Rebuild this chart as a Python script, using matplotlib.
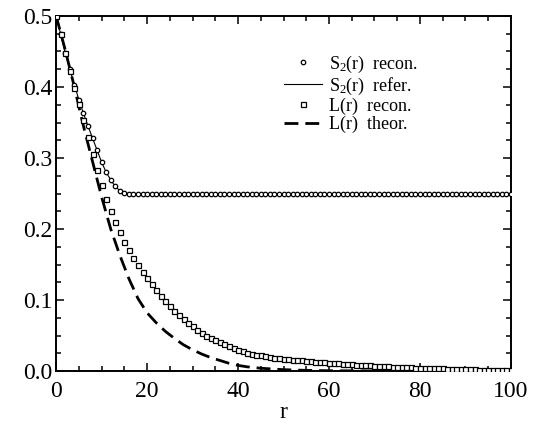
import numpy as np
import matplotlib.pyplot as plt
from matplotlib.ticker import MultipleLocator, FormatStrFormatter

plt.rcParams['font.family'] = ['Liberation Serif', 'DejaVu Serif']
plt.rcParams['mathtext.fontset'] = 'custom'
plt.rcParams['mathtext.rm'] = 'Liberation Serif'
plt.rcParams['mathtext.it'] = 'Liberation Serif:italic'

# r grid of the reconstructed data (one sample per pixel unit)
r = np.arange(0, 101)

# S2(r), flat at 0.25 after r = 16
s2_head = [0.500, 0.474, 0.448, 0.425, 0.403, 0.382, 0.363, 0.345, 0.328,
           0.311, 0.294, 0.280, 0.269, 0.260, 0.254, 0.251, 0.250]
s2_recon = s2_head + [0.250] * (101 - len(s2_head))
s2_refer = s2_recon

# L(r) reconstructed
l_recon = [0.500, 0.474, 0.448, 0.423, 0.399, 0.376, 0.353, 0.330, 0.306, 0.283,
           0.262, 0.243, 0.226, 0.210, 0.196, 0.182, 0.170, 0.159, 0.149, 0.140,
           0.131, 0.122, 0.114, 0.106, 0.099, 0.092, 0.085, 0.079, 0.073, 0.068,
           0.063, 0.058, 0.054, 0.050, 0.047, 0.044, 0.041, 0.038, 0.035, 0.032,
           0.030, 0.028, 0.026, 0.024, 0.023, 0.022, 0.021, 0.020, 0.019, 0.018,
           0.017, 0.0165, 0.016, 0.0155, 0.015, 0.0145, 0.014, 0.0135, 0.013, 0.0125,
           0.012, 0.0115, 0.011, 0.0105, 0.010, 0.0095, 0.009, 0.0085, 0.0082, 0.0079,
           0.0076, 0.0073, 0.0070, 0.0067, 0.0064, 0.0061, 0.0058, 0.0055, 0.0052, 0.0050,
           0.0048, 0.0046, 0.0044, 0.0042, 0.0040, 0.0038, 0.0036, 0.0034, 0.0032, 0.0030,
           0.0028, 0.0026, 0.0024, 0.0022, 0.0021, 0.0020, 0.0019, 0.0018, 0.0017, 0.0016,
           0.0015]

# L(r) theoretical
r_theor = [0, 2, 4, 6, 8, 10, 12, 14, 16, 18, 20, 22, 24, 26, 28, 30, 32, 34,
           36, 38, 40, 42, 45, 50, 55, 60, 70, 80, 100]
l_theor = [0.500, 0.452, 0.400, 0.345, 0.295, 0.245, 0.200, 0.163, 0.130, 0.102,
           0.082, 0.068, 0.056, 0.046, 0.037, 0.030, 0.024, 0.019, 0.015, 0.011,
           0.008, 0.006, 0.004, 0.002, 0.001, 0.0005, 0.0002, 0.0001, 0.0]

fig = plt.figure(figsize=(5.35, 4.32), dpi=100)
ax = fig.add_axes([0.105, 0.141, 0.850, 0.822])

ax.plot(r, s2_refer, '-', color='black', lw=0.8, zorder=2, label=r'S$_2$(r)  refer.')
ax.plot(r, s2_recon, 'o', ms=3.2, mfc='white', mec='black', mew=0.9, zorder=3,
        label=r'S$_2$(r)  recon.')
ax.plot(r, l_recon, 's', ms=3.6, mfc='white', mec='black', mew=0.9, zorder=3,
        label='L(r)  recon.')
ax.plot(r_theor, l_theor, '--', color='black', lw=2, dashes=(5, 2.5), zorder=2,
        label='L(r)  theor.')

ax.set_xlim(0, 100)
ax.set_ylim(0, 0.5)
ax.xaxis.set_major_locator(MultipleLocator(20))
ax.xaxis.set_minor_locator(MultipleLocator(5))
ax.yaxis.set_major_locator(MultipleLocator(0.1))
ax.yaxis.set_minor_locator(MultipleLocator(0.025))
ax.yaxis.set_major_formatter(FormatStrFormatter('%.1f'))
ax.tick_params(which='both', direction='in', top=True, right=True, width=1.1)
ax.tick_params(which='major', length=6, labelsize=17)
ax.tick_params(axis='x', which='major', pad=7)
ax.tick_params(axis='y', which='major', pad=3)
ax.tick_params(which='minor', length=3.5)
for s in ax.spines.values():
    s.set_linewidth(1.4)
ax.set_xlabel('r', fontsize=17, labelpad=0)

h, l = ax.get_legend_handles_labels()
order = [1, 0, 2, 3]
ax.legend([h[i] for i in order], [l[i] for i in order], loc='upper left',
          bbox_to_anchor=(0.482, 0.92), frameon=False, fontsize=13, numpoints=1,
          handlelength=2.1, handletextpad=0.35, labelspacing=0.05,
          borderpad=0.0)

fig.savefig('out.png', dpi=100)
